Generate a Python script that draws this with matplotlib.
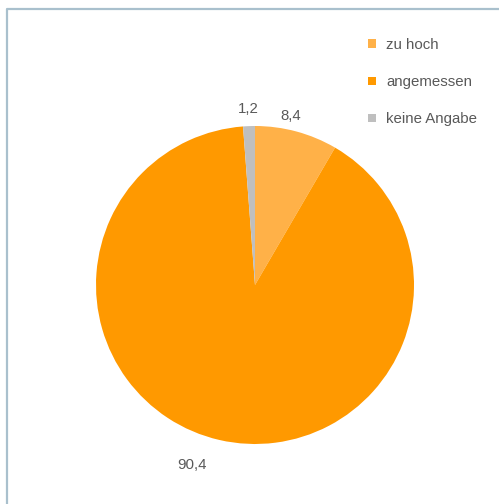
import matplotlib.pyplot as plt
from matplotlib.lines import Line2D

plt.rcParams['font.family'] = ['Liberation Sans', 'DejaVu Sans']

categories = ["zu hoch", "angemessen", "keine Angabe"]
values = [8.4, 90.4, 1.2]
value_labels = ["8,4", "90,4", "1,2"]
colors = ["#FFB148", "#FF9900", "#BFBFBF"]

fig = plt.figure(figsize=(4.99, 5.04), dpi=100)
fig.patch.set_facecolor("white")

# chart frame (only left and top edge visible)
x0 = 6.5 / 499
y0 = 1 - 8.5 / 504
fig.add_artist(Line2D([x0, x0, 1], [0, y0, y0], transform=fig.transFigure,
                      color="#A9C0CD", lw=1.6))

ax = fig.add_axes([96 / 499, 1 - 444 / 504, 318 / 499, 318 / 504])
wedges, texts = ax.pie(values, colors=colors, startangle=90, counterclock=False,
                       labels=value_labels, labeldistance=1.1,
                       wedgeprops=dict(linewidth=0),
                       textprops=dict(fontsize=10.8, color="#595959"))
for t in texts:
    t.set_ha("center")
    t.set_va("center")
# nudge labels like the original
x, y = texts[0].get_position()
texts[0].set_position((x - 0.06, y))
x, y = texts[1].get_position()
texts[1].set_position((x - 0.15, y - 0.06))
x, y = texts[2].get_position()
texts[2].set_position((x, y + 0.01))
ax.set_xlim(-1, 1)
ax.set_ylim(-1, 1)
ax.set_aspect("equal")

fig.legend(wedges, categories, loc="upper left", bbox_to_anchor=(368 / 499, 1 - 38 / 504),
           frameon=False, fontsize=10.8, labelcolor="#595959",
           handlelength=0.5, handleheight=0.5, handletextpad=0.7,
           labelspacing=1.55, borderpad=0, borderaxespad=0)

fig.savefig("out.png", dpi=100)
